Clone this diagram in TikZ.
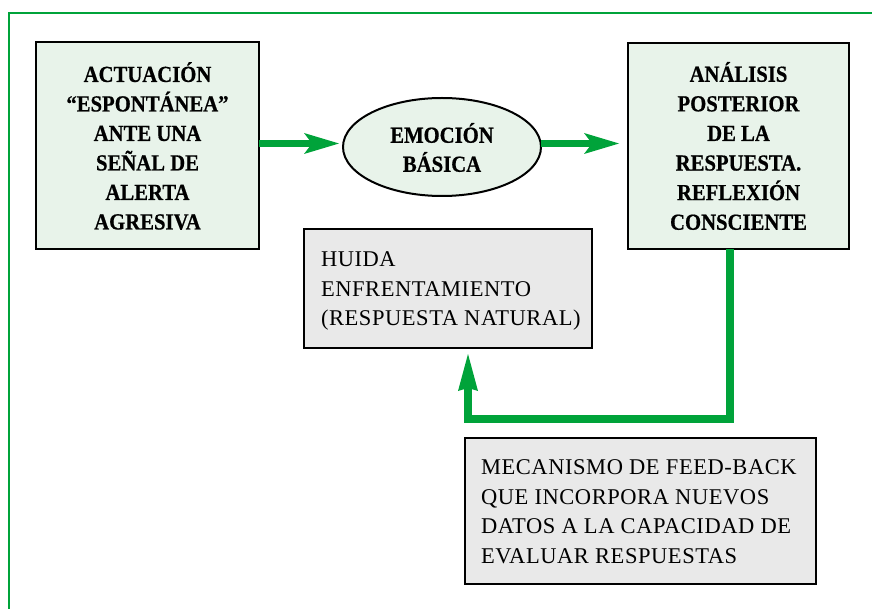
\documentclass[tikz,border=0pt]{standalone}
\usepackage{fontspec}
\setmainfont{Liberation Serif}
\newfontfamily\boxfont[LetterSpace=2.5]{Liberation Serif}
\newfontfamily\headfont[FakeStretch=0.9,FakeBold=0.6]{Liberation Serif}
\usetikzlibrary{arrows.meta,shapes.geometric}
\definecolor{fbgreen}{RGB}{0,163,58}
\definecolor{lightgreen}{RGB}{232,243,234}
\definecolor{lightgray}{RGB}{233,233,233}
\begin{document}
\begin{tikzpicture}[x=1pt,y=-1pt,
  frameline/.style={draw=fbgreen, line width=1.5pt},
  greenbox/.style={draw=black, line width=2.6pt, fill=lightgreen, inner sep=0pt, outer sep=0pt},
  graybox/.style={draw=black, line width=2.6pt, fill=lightgray, inner sep=0pt, outer sep=0pt},
  greenoval/.style={ellipse, draw=black, line width=2pt, fill=lightgreen, inner sep=0pt, outer sep=0pt},
  boldtext/.style={align=center, inner sep=0pt, outer sep=0pt},
  plaintext/.style={align=left, inner sep=0pt, outer sep=0pt, anchor=north west,
    font=\boxfont\fontsize{22.5}{29.5}\selectfont},
  flow/.style={draw=fbgreen, line width=7pt, -{Stealth[length=35pt,width=21pt,inset=8pt,line width=0pt]}},
  feedback/.style={draw=fbgreen, line width=8pt, line join=miter,
    -{Stealth[length=37pt,width=20pt,inset=3pt,line width=0pt]}}
]
\useasboundingbox (0,0) rectangle (872,609);
\fill[white] (0,0) rectangle (872,609);
% frame
\coordinate (fa) at (872,13);
\coordinate (fb) at (9,13);
\coordinate (fc) at (9,609);
\draw[frameline] (fa) -- (fb) -- (fc);

% boxes
\node[greenbox, minimum width=223pt, minimum height=207pt] (b1) at (147.5,145.5) {};
\node[greenbox, minimum width=221pt, minimum height=206pt] (b3) at (738.5,146) {};
\node[greenoval, minimum width=198pt, minimum height=98pt] (el) at (442,147) {};
\node[graybox, minimum width=288pt, minimum height=119pt] (b2) at (448,288.5) {};
\node[graybox, minimum width=351pt, minimum height=146pt] (b4) at (640.5,511) {};

% texts
\node[boldtext, font=\headfont\bfseries\fontsize{23}{29.5}\selectfont] (t1) at (147.5,146)
  {ACTUACIÓN\\“ESPONTÁNEA”\\ANTE UNA\\SEÑAL DE\\ALERTA\\AGRESIVA};
\node[boldtext, font=\headfont\bfseries\fontsize{23}{29.6}\selectfont] (t3) at (738.5,146)
  {ANÁLISIS\\POSTERIOR\\DE LA\\RESPUESTA.\\REFLEXIÓN\\CONSCIENTE};
\node[boldtext, font=\headfont\bfseries\fontsize{23}{29}\selectfont] (te) at (442,147.5)
  {EMOCIÓN\\BÁSICA};
\node[plaintext] (t2) at (321,252) {HUIDA\\ENFRENTAMIENTO\\(RESPUESTA NATURAL)};
\node[plaintext] (t4) at (481,460)
  {MECANISMO DE FEED-BACK\\QUE INCORPORA NUEVOS\\DATOS A LA CAPACIDAD DE\\EVALUAR RESPUESTAS};

% connectors
\coordinate (ay) at (0,143.5);
\draw[flow, shorten >=4pt] (b1.east |- ay) -- (el.west |- ay);
\draw[flow, shorten >=9pt] (el.east |- ay) -- (b3.west |- ay);
\coordinate (fbr) at (730,419);
\coordinate (fbl) at (468,419);
\draw[feedback, shorten >=6pt] (b3.south -| fbr) -- (fbr) -- (fbl) -- (b2.south -| fbl);
\end{tikzpicture}
\end{document}
